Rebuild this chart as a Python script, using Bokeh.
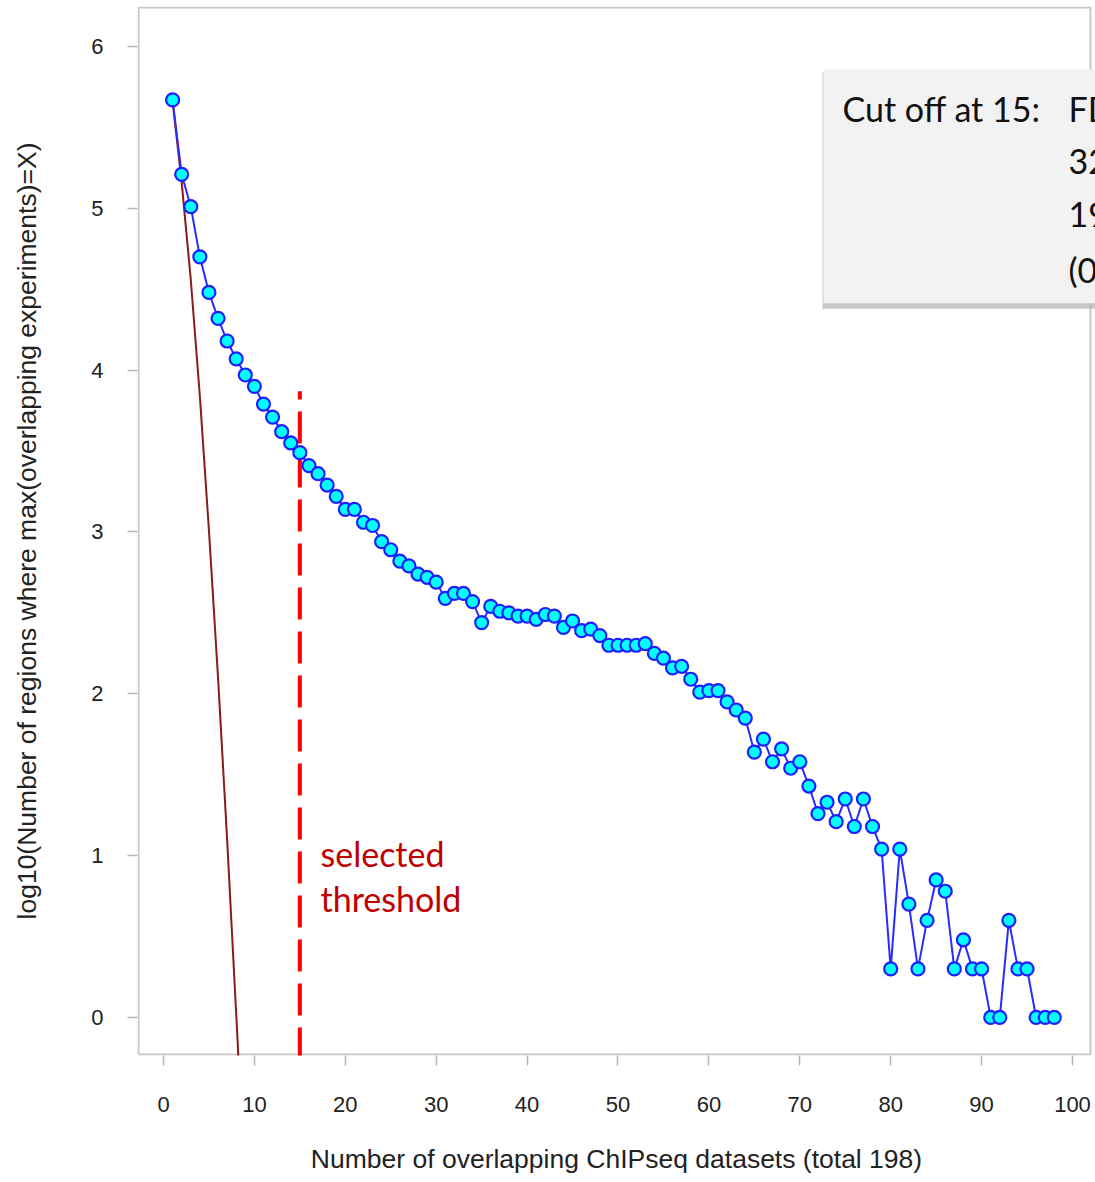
from bokeh.plotting import figure
from bokeh.models import BoxAnnotation, Label, FixedTicker, Range1d
from bokeh.embed import file_html
from bokeh.resources import INLINE

# ---- data ----
overlap_n = list(range(1, 99))
log_regions = [
    5.67, 5.21, 5.01, 4.70, 4.48, 4.32, 4.18, 4.07, 3.97, 3.90,
    3.79, 3.71, 3.62, 3.55, 3.49, 3.41, 3.36, 3.29, 3.22, 3.14,
    3.14, 3.06, 3.04, 2.94, 2.89, 2.82, 2.79, 2.74, 2.72, 2.69,
    2.59, 2.62, 2.62, 2.57, 2.44, 2.54, 2.51, 2.50, 2.48, 2.48,
    2.46, 2.49, 2.48, 2.41, 2.45, 2.39, 2.40, 2.36, 2.30, 2.30,
    2.30, 2.30, 2.31, 2.25, 2.22, 2.16, 2.17, 2.09, 2.01, 2.02,
    2.02, 1.95, 1.90, 1.85, 1.64, 1.72, 1.58, 1.66, 1.54, 1.58,
    1.43, 1.26, 1.33, 1.21, 1.35, 1.18, 1.35, 1.18, 1.04, 0.30,
    1.04, 0.70, 0.30, 0.60, 0.85, 0.78, 0.30, 0.48, 0.30, 0.30,
    0.00, 0.00, 0.60, 0.30, 0.30, 0.00, 0.00, 0.00,
]
null_n = [1, 2, 3, 4, 5, 6, 7, 8, 9]
null_log = [5.66, 5.16, 4.56, 3.84, 3.01, 2.10, 1.10, 0.02, -1.08]

threshold = 15
threshold_y = [-0.26, 3.87]
x_ticks = [0, 10, 20, 30, 40, 50, 60, 70, 80, 90, 100]
y_ticks = [0, 1, 2, 3, 4, 5, 6]
box_title = "Cut off at 15:"
box_lines = ["FD", "32", "19", "(0"]

# ---- figure ----
X0, X1 = -2.86, 102.53     # frame runs to the page edge on the right
Y0, Y1 = -0.235, 6.247
p = figure(width=1095, height=1182, output_backend="svg", toolbar_location=None,
           x_range=Range1d(X0, X1), y_range=Range1d(Y0, Y1),
           min_border_left=137, min_border_right=0, min_border_top=6,
           min_border_bottom=127)
p.background_fill_color = "white"
p.border_fill_color = "white"
p.outline_line_color = None
p.xgrid.visible = False
p.ygrid.visible = False

for ax in (p.xaxis[0], p.yaxis[0]):
    ax.axis_line_color = None
    ax.major_tick_line_color = "#b8b8b8"
    ax.major_tick_line_width = 1.5
    ax.major_tick_out = 10
    ax.major_tick_in = 0
    ax.minor_tick_line_color = None
    ax.major_label_text_font = "Liberation Sans"
    ax.major_label_text_font_size = "22px"
    ax.major_label_text_color = "#222222"
    ax.axis_label_text_font = "Liberation Sans"
    ax.axis_label_text_font_size = "26.5px"
    ax.axis_label_text_font_style = "normal"
    ax.axis_label_text_color = "#222222"

p.xaxis.ticker = FixedTicker(ticks=x_ticks)
p.yaxis.ticker = FixedTicker(ticks=y_ticks)
p.xaxis.axis_label = "Number of overlapping ChIPseq datasets (total 198)"
p.yaxis.axis_label = "log10(Number of regions where max(overlapping experiments)=X)"
p.xaxis.major_label_standoff = 31
p.yaxis.major_label_standoff = 24
p.xaxis.axis_label_standoff = 29
p.yaxis.axis_label_standoff = 46

# plot box border (drawn as lines so its right edge sits inside the page)
bx_l, bx_r = X0 + 0.11, 101.98
by_b, by_t = Y0 + 0.006, Y1 - 0.006
p.line([bx_l, bx_r, bx_r, bx_l, bx_l], [by_b, by_b, by_t, by_t, by_b],
       line_color="#c8c8c8", line_width=2)

# null model curve
p.line(null_n, null_log, line_color="#8b1a1a", line_width=2)

# threshold line
p.line([threshold, threshold], threshold_y, line_color="#ff0000", line_width=4,
       line_dash="32 12")

# observed data
p.line(overlap_n, log_regions, line_color="#2a2aff", line_width=2)
p.scatter(overlap_n, log_regions, size=13, fill_color="#00ffff",
          line_color="#1e1eff", line_width=2.2)

# annotations
p.add_layout(Label(x=17.27, y=1.012, text="selected", text_font="Lato",
                   text_font_size="34px", text_color="#c00000",
                   text_baseline="middle"))
p.add_layout(Label(x=17.27, y=0.735, text="threshold", text_font="Lato",
                   text_font_size="34px", text_color="#c00000",
                   text_baseline="middle"))

p.add_layout(BoxAnnotation(left=72.5, right=110, top=5.84, bottom=4.38,
                           fill_color="#b4b4b4", fill_alpha=0.75, line_color=None))
p.add_layout(BoxAnnotation(left=72.6, right=110, top=5.858, bottom=4.414,
                           fill_color="#f2f2f2", fill_alpha=1.0, line_color=None))
p.add_layout(Label(x=74.7, y=5.617, text=box_title, text_font="Lato",
                   text_font_size="34px", text_color="#111111",
                   text_baseline="middle"))
for txt, yy in zip(box_lines, [5.617, 5.29, 4.963, 4.623]):
    p.add_layout(Label(x=99.56, y=yy, text=txt, text_font="Lato",
                       text_font_size="34px", text_color="#111111",
                       text_baseline="middle"))

open("out.html", "w").write(file_html(p, INLINE))
